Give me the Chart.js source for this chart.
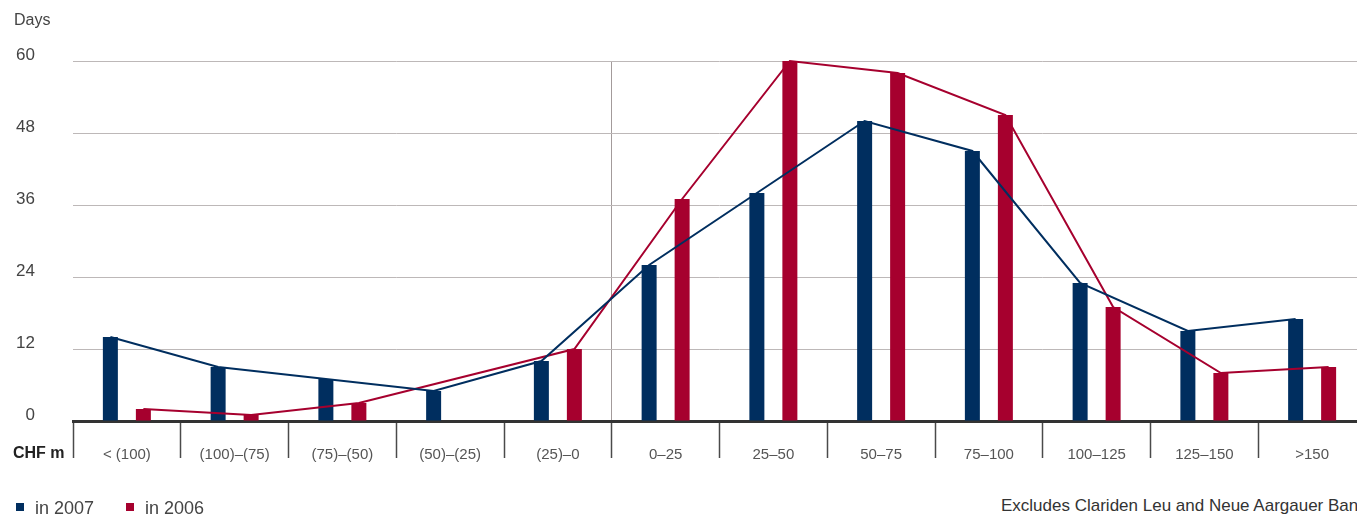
<!DOCTYPE html>
<html>
<head>
<meta charset="utf-8">
<script src="https://cdn.jsdelivr.net/npm/chart.js@4"></script>
<style>
  html, body { margin: 0; padding: 0; overflow: hidden; background: #fff; }
  body { width: 1357px; height: 516px; position: relative; font-family: "Liberation Sans", Arial, sans-serif; color: #333; }
  .wrap { position: absolute; left: 0; top: 0; width: 1366px; height: 470px; }
  .txt { position: absolute; white-space: nowrap; }
  .sq { position: absolute; width: 8px; height: 8px; }
</style>
</head>
<body>
<div class="wrap"><canvas id="bars-chart"></canvas></div>
<div class="wrap"><canvas id="lines-chart"></canvas></div>
<div class="txt" style="left:14px; top:12px; font-size:16px; line-height:16px; color:#444;">Days</div>
<div class="txt" style="left:13px; top:445px; font-size:16px; line-height:16px; font-weight:bold; color:#222;">CHF m</div>
<div class="sq" style="left:16px; top:503px; background:#002e5f;"></div>
<div class="txt" style="left:35px; top:499px; font-size:18px; line-height:18px; color:#444;">in 2007</div>
<div class="sq" style="left:126px; top:503px; background:#a6002e;"></div>
<div class="txt" style="left:145px; top:499px; font-size:18px; line-height:18px; color:#444;">in 2006</div>
<div class="txt" style="left:1001px; top:497px; font-size:17px; line-height:17px; color:#333;">Excludes Clariden Leu and Neue Aargauer Bank</div>
<script>
// categories (CHF m) and days per bucket
const categories = ['< (100)', '(100)–(75)', '(75)–(50)', '(50)–(25)', '(25)–0', '0–25',
  '25–50', '50–75', '75–100', '100–125', '125–150', '>150'];
const days2007 = [14, 9, 7, 5, 10, 26, 38, 50, 45, 23, 15, 17];
const days2006 = [2, 1, 3, 0, 12, 37, 60, 58, 51, 19, 8, 9];
const yTicks = [0, 12, 24, 36, 48, 60];

const blue = '#002e5f';
const red = '#a6002e';
const catPct = 0.6125;

// same plot box for both canvases
const plotLeft = 73, plotTop = 61, axisBottom = 49;

// bars + axes
new Chart(document.getElementById('bars-chart'), {
    type: 'bar',
    data: {
        labels: categories,
        datasets: [{
            label: 'in 2007',
            data: days2007,
            backgroundColor: blue,
            categoryPercentage: catPct,
            barPercentage: 0.4545
        },
        {
            label: 'in 2006',
            data: days2006,
            backgroundColor: red,
            categoryPercentage: catPct,
            barPercentage: 0.4545
        }]
    },
    options: {
        responsive: true,
        maintainAspectRatio: false,
        animation: false,
        layout: { padding: { top: plotTop, left: 0, right: 0, bottom: 0 } },
        plugins: {
            legend: { display: false },
            tooltip: { enabled: false }
        },
        scales: {
            x: {
                offset: true,
                grid: {
                    offset: true,
                    drawOnChartArea: true,
                    color: function (c) { return c.index === 5 ? '#a39b9b' : 'rgba(0,0,0,0)'; },
                    lineWidth: 1,
                    tickColor: '#4a4a4a',
                    tickWidth: 1.5,
                    tickLength: 37
                },
                border: { display: true, color: '#333', width: 3 },
                ticks: {
                    color: '#555',
                    font: { family: 'Liberation Sans', size: 15 },
                    padding: -12,
                    maxRotation: 0,
                    autoSkip: false
                },
                afterFit: function (s) { s.height = axisBottom; }
            },
            y: {
                min: 0,
                max: 60,
                afterBuildTicks: function (s) { s.ticks = yTicks.map(function (v) { return { value: v }; }); },
                grid: { color: '#bdb8b8', lineWidth: 1, drawTicks: false },
                border: { display: false },
                ticks: {
                    color: '#444',
                    font: { family: 'Liberation Sans', size: 17 },
                    padding: 38,
                    labelOffset: -6
                },
                afterFit: function (s) { s.width = plotLeft; }
            }
        }
    }
});

// the lines run through the bar middles: linear x where category i spans i-0.5..i+0.5
function linePoints(values, side, skipZero) {
  const pts = [];
  values.forEach(function (v, i) {
    if (skipZero && v === 0) return;
    pts.push({ x: i + side * catPct / 4, y: v });
  });
  return pts;
}

new Chart(document.getElementById('lines-chart'), {
    type: 'line',
    data: {
        datasets: [{
            label: 'trend 2007',
            data: linePoints(days2007, -1, false),
            borderColor: blue,
            borderWidth: 2,
            pointRadius: 0,
            tension: 0,
            clip: false
        },
        {
            label: 'trend 2006',
            data: linePoints(days2006, 1, true),
            borderColor: red,
            borderWidth: 2,
            pointRadius: 0,
            tension: 0,
            clip: false
        }]
    },
    options: {
        responsive: true,
        maintainAspectRatio: false,
        animation: false,
        layout: { padding: { top: plotTop, left: plotLeft, right: 0, bottom: axisBottom } },
        plugins: {
            legend: { display: false },
            tooltip: { enabled: false }
        },
        scales: {
            x: { type: 'linear', display: false, min: -0.5, max: categories.length - 0.5 },
            y: { display: false, min: 0, max: 60 }
        }
    }
});
</script>
</body>
</html>
